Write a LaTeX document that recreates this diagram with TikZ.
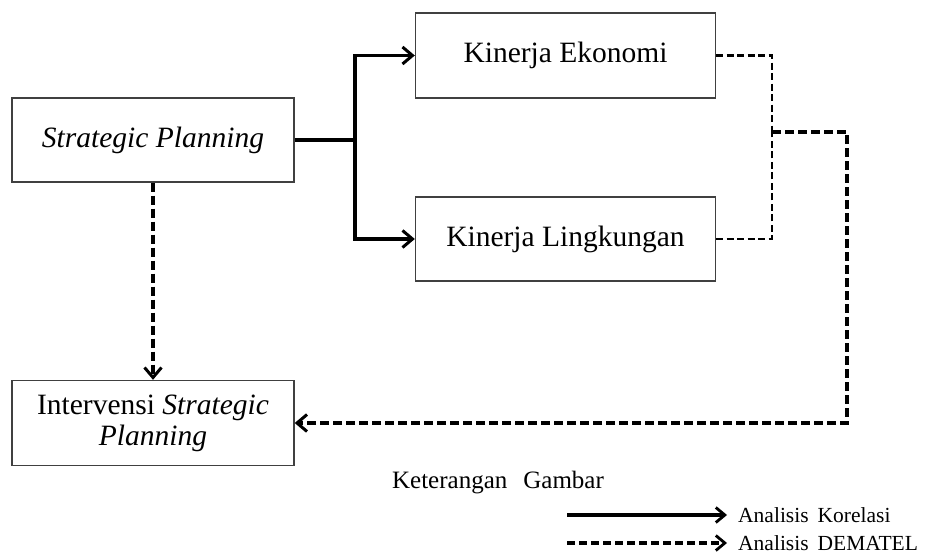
\documentclass[tikz,border=0pt]{standalone}
\usepackage{fontspec}
\setmainfont{Liberation Serif}
\usetikzlibrary{arrows.meta}
\begin{document}
\begin{tikzpicture}[x=1pt,y=-1pt,
  box/.style={draw=black!75,line width=1.4pt,fill=white,inner sep=0pt,align=center,
    font=\fontsize{29.5}{31}\selectfont},
  tip/.style={-{Straight Barb[length=10pt,width=17pt,line width=3pt]}},
  kor/.style={line width=3.6pt,tip},
  korline/.style={line width=3.6pt},
  demthin/.style={line width=2.3pt,dash pattern=on 7pt off 3.5pt},
  demthick/.style={line width=4pt,dash pattern=on 9pt off 4pt},
  demarrow/.style={demthick,tip},
  legtext/.style={anchor=west,inner sep=0pt,font=\fontsize{21.5}{24}\selectfont}]
\useasboundingbox (0,0) rectangle (925,554);
\node[box,minimum width=282pt,minimum height=84pt] (sp) at (153,140) {\itshape Strategic Planning};
\node[box,minimum width=300pt,minimum height=85pt] (ke) at (565.5,55.5) {Kinerja Ekonomi};
\node[box,minimum width=300pt,minimum height=84pt] (kl) at (565.5,239) {Kinerja Lingkungan};
\node[box,minimum width=282pt,minimum height=85pt] (iv) at (153,423) {Intervensi \textit{Strategic}\\\textit{Planning}};
\coordinate (br) at (355,140);
\coordinate (j) at (772,132);
\coordinate (c) at (847,132);
\draw[korline] (sp.east) -- (br);
\draw[kor] (br) |- (ke.west);
\draw[kor] (br) |- (kl.west);
\draw[demthin] (ke.east) -| (j);
\draw[demthin] (kl.east) -| (j);
\draw[demarrow] (j) -- (c) |- (iv.east);
\draw[demarrow] (sp.south) -- (iv.north);
\node[inner sep=0pt,font=\fontsize{25}{28}\selectfont] (ket) at (498,483) {Keterangan\hspace{16pt}Gambar};
\coordinate (l1a) at (567,515);
\coordinate (l1b) at (727,515);
\coordinate (l2a) at (567,543);
\coordinate (l2b) at (727,543);
\draw[line width=3.2pt,-{Straight Barb[length=9pt,width=15pt,line width=2.8pt]}] (l1a) -- (l1b);
\draw[line width=3.4pt,dash pattern=on 8pt off 4pt,-{Straight Barb[length=9pt,width=15pt,line width=2.8pt]}] (l2a) -- (l2b);
\node[legtext] (k1) at (738,515) {Analisis\hspace{9pt}Korelasi};
\node[legtext] (k2) at (738,543) {Analisis\hspace{9pt}DEMATEL};
\end{tikzpicture}
\end{document}
